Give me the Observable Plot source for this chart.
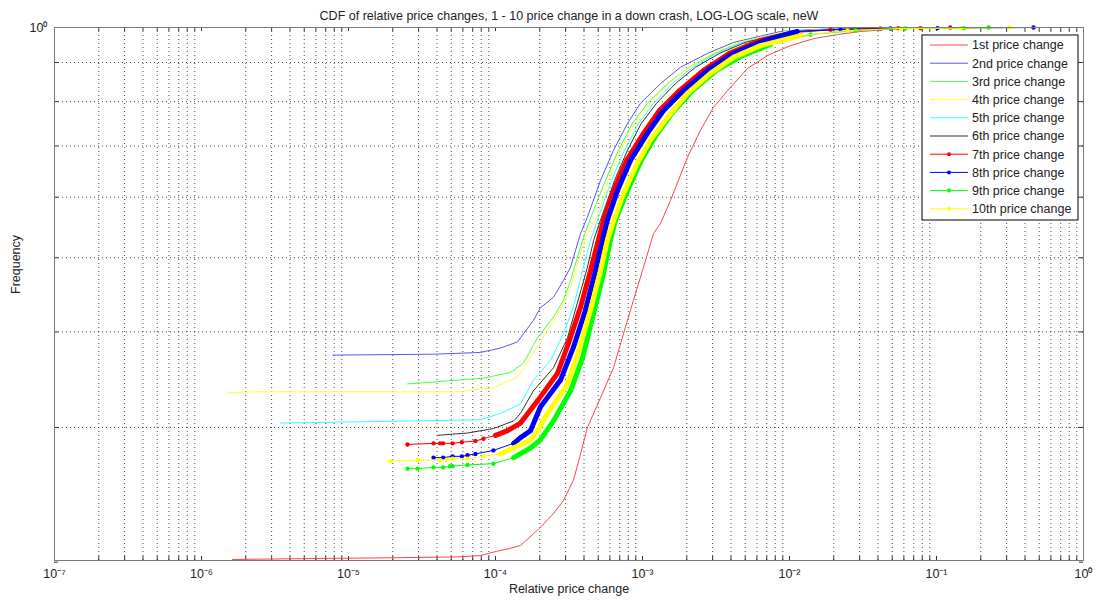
<!DOCTYPE html>
<html><head><meta charset="utf-8">
<script src="https://cdn.jsdelivr.net/npm/d3@7"></script>
<script src="https://cdn.jsdelivr.net/npm/@observablehq/plot@0.6"></script>
<style>
body{margin:0;background:#fff;}
#chart{width:1096px;height:605px;}
</style>
</head><body><div id="chart"></div>
<script>
const title = "CDF of relative price changes, 1 - 10 price change in a down crash, LOG-LOG scale, neW";
const xLabel = "Relative price change";
const yLabel = "Frequency";
const seriesNames = ["1st price change","2nd price change","3rd price change","4th price change","5th price change","6th price change","7th price change","8th price change","9th price change","10th price change"];
const seriesColors = ["#ff4444","#5555ff","#44ff44","#ffff33","#33ffff","#333333","#ff0000","#0000ff","#00ff00","#ffff00"];
const seriesMarkers = [false,false,false,false,false,false,true,true,true,true];
const xMajorTicks = [1e-7,1e-6,1e-5,1e-4,1e-3,1e-2,1e-1,1];
const xTickLabels = ["10⁻⁷","10⁻⁶","10⁻⁵","10⁻⁴","10⁻³","10⁻²","10⁻¹","10⁰"];
const xMinorMultipliers = [2,3,4,5,6,7,8,9];
const yGridValues = [0.3,0.4,0.5,0.6,0.7,0.8,0.9];
const yTickValues = [0.2,0.3,0.4,0.5,0.6,0.7,0.8,0.9,1];
const yLabelTicks = [1];
const yTickLabels = ["10⁰"];

// [relative price change, cumulative frequency]
const s1 = [[1.62e-6,0.2016],[2.4e-6,0.2018],[4.72e-6,0.2021],[1e-5,0.2024],[2.26e-5,0.2027],[5.5e-5,0.2032],[7.9e-5,0.204],[1.016e-4,0.2066],[1.25e-4,0.2084],[1.48e-4,0.2103],[1.99e-4,0.2214],[2.48e-4,0.2315],[2.9e-4,0.2408],[3.39e-4,0.256],[3.79e-4,0.277],[4.22e-4,0.300],[5.18e-4,0.328],[6.35e-4,0.359],[7.43e-4,0.398],[8.68e-4,0.440],[1.016e-3,0.486],[1.19e-3,0.538],[1.33e-3,0.555],[1.55e-3,0.594],[2.02e-3,0.676],[2.48e-3,0.734],[3.04e-3,0.786],[3.79e-3,0.827],[5.18e-3,0.884],[7.08e-3,0.919],[1.016e-2,0.947],[1.46e-2,0.967],[2.12e-2,0.979],[3.04e-2,0.988],[5.7e-2,0.997],[0.146,1]];
const s2 = [[7.8e-6,0.373],[3.79e-5,0.374],[7.9e-5,0.376],[1.08e-4,0.381],[1.41e-4,0.388],[1.48e-4,0.393],[1.81e-4,0.414],[2.02e-4,0.430],[2.48e-4,0.444],[2.9e-4,0.467],[3.24e-4,0.486],[3.5e-4,0.511],[3.79e-4,0.538],[4.22e-4,0.565],[5.18e-4,0.631],[6.35e-4,0.691],[7.9e-4,0.749],[9.68e-4,0.796],[1.33e-3,0.845],[1.81e-3,0.887],[2.77e-3,0.925],[4.16e-3,0.956],[8.68e-3,0.988],[1.46e-2,0.994],[3.04e-2,0.998],[5.7e-2,1]];
const s3 = [[2.52e-5,0.342],[8.28e-5,0.348],[1.265e-4,0.354],[1.55e-4,0.364],[1.93e-4,0.393],[2.48e-4,0.418],[2.9e-4,0.440],[3.24e-4,0.467],[3.6e-4,0.500],[3.97e-4,0.531],[4.5e-4,0.568],[5.6e-4,0.631],[6.86e-4,0.691],[8.52e-4,0.749],[1.08e-3,0.796],[1.48e-3,0.845],[2.06e-3,0.887],[3.09e-3,0.925],[4.65e-3,0.956],[9.4e-3,0.988],[1.62e-2,0.994],[3.55e-2,0.998],[9e-2,1]];
const s4 = [[1.5e-6,0.333],[2.4e-6,0.334],[5.5e-5,0.334],[9.68e-5,0.338],[1.41e-4,0.349],[1.81e-4,0.375],[2.26e-4,0.402],[2.77e-4,0.427],[3.24e-4,0.457],[3.67e-4,0.496],[4.09e-4,0.531],[4.94e-4,0.568],[5.87e-4,0.631],[7.08e-4,0.691],[8.8e-4,0.749],[1.12e-3,0.796],[1.5e-3,0.845],[2.06e-3,0.887],[2.99e-3,0.925],[4.5e-3,0.956],[9.4e-3,0.988],[1.9e-2,0.994],[4.16e-2,0.998],[0.124,1]];
const s5 = [[3.45e-6,0.304],[2.95e-5,0.306],[7.9e-5,0.307],[1.08e-4,0.313],[1.48e-4,0.322],[1.81e-4,0.346],[2.37e-4,0.367],[2.9e-4,0.398],[3.39e-4,0.431],[3.91e-4,0.481],[4.43e-4,0.527],[4.94e-4,0.560],[6.15e-4,0.631],[7.54e-4,0.691],[9.4e-4,0.749],[1.19e-3,0.796],[1.6e-3,0.845],[2.19e-3,0.887],[3.18e-3,0.925],[4.79e-3,0.956],[9.8e-3,0.988],[1.9e-2,0.994],[4.16e-2,0.998],[0.107,1]];
const s6 = [[4.03e-5,0.293],[6.45e-5,0.295],[9.68e-5,0.299],[1.33e-4,0.306],[1.48e-4,0.313],[1.81e-4,0.335],[2.48e-4,0.359],[3.09e-4,0.393],[3.6e-4,0.436],[4.22e-4,0.486],[4.65e-4,0.527],[5.18e-4,0.560],[6.45e-4,0.631],[7.9e-4,0.691],[9.8e-4,0.749],[1.245e-3,0.796],[1.68e-3,0.845],[2.29e-3,0.887],[3.34e-3,0.925],[5.0e-3,0.956],[1.016e-2,0.988],[2.06e-2,0.994],[4.5e-2,0.998],[0.119,1]];
const s7 = [[2.52e-5,0.285],[3.79e-5,0.286],[4.2e-5,0.286],[4.4e-5,0.286],[5.1e-5,0.286],[5.9e-5,0.287],[7.3e-5,0.288],[8.28e-5,0.290],[1.0e-4,0.293],[1.2e-4,0.297],[1.48e-4,0.304],[1.93e-4,0.325],[2.64e-4,0.353],[3.13e-4,0.386],[3.79e-4,0.431],[4.43e-4,0.481],[5.0e-4,0.527],[5.43e-4,0.560],[6.35e-4,0.612],[7.78e-4,0.670],[1.016e-3,0.727],[1.305e-3,0.779],[1.785e-3,0.827],[2.6e-3,0.879],[3.91e-3,0.925],[6.35e-3,0.962],[1.1e-2,0.985],[1.9e-2,0.993],[2.8e-2,0.996],[4.16e-2,0.997],[5.5e-2,0.998],[7.78e-2,0.998],[0.124,1]];
const s8 = [[3.79e-5,0.274],[4.4e-5,0.274],[5.1e-5,0.275],[5.9e-5,0.275],[6.45e-5,0.276],[7.3e-5,0.277],[9.68e-5,0.280],[1.33e-4,0.286],[1.48e-4,0.291],[1.73e-4,0.297],[2.02e-4,0.319],[2.77e-4,0.346],[3.39e-4,0.382],[4.09e-4,0.427],[4.79e-4,0.481],[5.34e-4,0.527],[5.77e-4,0.560],[6.76e-4,0.612],[8.28e-4,0.670],[1.08e-3,0.727],[1.39e-3,0.779],[1.9e-3,0.827],[2.77e-3,0.879],[4.16e-3,0.925],[6.86e-3,0.962],[1.13e-2,0.988],[2.22e-2,0.994],[4.86e-2,0.997],[0.1016,0.998],[0.457,1]];
const s9 = [[2.52e-5,0.265],[2.95e-5,0.265],[3.79e-5,0.266],[4.4e-5,0.266],[4.9e-5,0.267],[5.1e-5,0.267],[6.45e-5,0.268],[9.68e-5,0.269],[1.33e-4,0.274],[1.73e-4,0.282],[2.02e-4,0.289],[2.48e-4,0.306],[3.24e-4,0.335],[3.91e-4,0.370],[4.65e-4,0.423],[5.43e-4,0.477],[6.05e-4,0.527],[6.55e-4,0.560],[7.9e-4,0.612],[9.8e-4,0.670],[1.23e-3,0.722],[1.6e-3,0.774],[2.19e-3,0.827],[3.18e-3,0.879],[4.79e-3,0.919],[7.43e-3,0.950],[1.39e-2,0.979],[2.81e-2,0.991],[6.15e-2,0.997],[0.153,0.998],[0.226,1]];
const s10 = [[1.93e-5,0.271],[2.95e-5,0.272],[4.2e-5,0.272],[4.65e-5,0.272],[5.1e-5,0.273],[6.45e-5,0.273],[8.3e-5,0.275],[1.08e-4,0.277],[1.55e-4,0.286],[1.73e-4,0.289],[1.93e-4,0.297],[2.26e-4,0.313],[3.09e-4,0.342],[3.67e-4,0.378],[4.43e-4,0.427],[5.18e-4,0.481],[5.77e-4,0.527],[6.3e-4,0.556],[7.43e-4,0.607],[9.2e-4,0.664],[1.13e-3,0.712],[1.48e-3,0.763],[2.02e-3,0.820],[2.9e-3,0.871],[4.16e-3,0.914],[6.35e-3,0.947],[1.19e-2,0.976],[2.48e-2,0.991],[5.7e-2,0.997],[0.146,0.998],[0.314,1]];

const allSeries = [s1,s2,s3,s4,s5,s6,s7,s8,s9,s10];

// layout
const W = 1096, H = 605;
const mT = 27, mR = 13, mB = 45, mL = 54;
const frameW = W - mL - mR, frameH = H - mT - mB;
const tickLen = 4;
const bandRange = [1.0e-4, 1.2e-2];
const fontFam = "'Liberation Sans', Arial, sans-serif";

const xMinor = xMajorTicks.slice(0, -1).flatMap(d => xMinorMultipliers.map(m => m * d));
const xAllTicks = xMajorTicks.concat(xMinor);
const xLabelMap = new Map(xMajorTicks.map((v, i) => [v, xTickLabels[i]]));
const yLabelMap = new Map(yLabelTicks.map((v, i) => [v, yTickLabels[i]]));

const gridStyle = {stroke: "#111", strokeOpacity: 0.75, strokeDasharray: "1,3"};

const seriesMarks = allSeries.flatMap((s, i) => {
  const rows = s.map(([x, y]) => ({x, y}));
  const m = [Plot.line(rows, {x: "x", y: "y", stroke: seriesColors[i], strokeWidth: 1})];
  if (seriesMarkers[i]) {
    const band = rows.filter(d => d.x >= bandRange[0] && d.x <= bandRange[1]);
    m.push(Plot.line(band, {x: "x", y: "y", stroke: seriesColors[i], strokeWidth: 5, strokeLinecap: "round"}));
    m.push(Plot.dot(rows, {x: "x", y: "y", r: 2.2, fill: seriesColors[i], stroke: "none"}));
  }
  return m;
});

const chart = Plot.plot({
  width: W, height: H,
  marginTop: mT, marginRight: mR, marginBottom: mB, marginLeft: mL,
  x: {type: "log", domain: [1e-7, 1]},
  y: {type: "log", domain: [0.201, 1]},
  style: {fontFamily: fontFam, fontSize: "12px", color: "#222", background: "#fff"},
  marks: [
    Plot.ruleX(xMinor, gridStyle),
    Plot.ruleY(yGridValues, gridStyle),
    Plot.tickX(xAllTicks, {stroke: "#333", insetTop: frameH - tickLen}),
    Plot.tickX(xAllTicks, {stroke: "#333", insetBottom: frameH - tickLen}),
    Plot.tickY(yTickValues, {stroke: "#333", insetRight: frameW - tickLen}),
    Plot.tickY(yTickValues, {stroke: "#333", insetLeft: frameW - tickLen}),
    ...seriesMarks,
    Plot.frame({stroke: "#7a7a7a"}),
    Plot.axisX(xMajorTicks, {tickSize: 0, tickPadding: 9, tickFormat: d => xLabelMap.get(d), fontSize: 12.5, label: null}),
    Plot.axisY(yLabelTicks, {tickSize: 0, tickPadding: 7, tickFormat: d => yLabelMap.get(d), fontSize: 12.5, label: null}),
    Plot.text([title], {frameAnchor: "top", dy: -16, fontSize: 12.5, fill: "#222"}),
    Plot.text([xLabel], {frameAnchor: "bottom", dy: 32, fontSize: 12.5, fill: "#222"}),
    Plot.text([yLabel], {frameAnchor: "left", dx: -39, rotate: -90, fontSize: 12.5, fill: "#222"})
  ]
});

document.getElementById("chart").appendChild(chart);

// legend (inside the axes, top-right, like the original)
const svg = d3.select(chart);
const lg = svg.append("g").attr("font-family", fontFam).attr("font-size", 12.5).attr("text-anchor", "start");
const lgX = 922, lgY = 35, lgW = 156, lgH = 185, rowH = 18.2;
lg.append("rect").attr("x", lgX).attr("y", lgY).attr("width", lgW).attr("height", lgH)
  .attr("fill", "#fff").attr("stroke", "#000").attr("stroke-width", 1);
seriesNames.forEach((name, i) => {
  const cy = lgY + 10 + i * rowH;
  lg.append("line").attr("x1", lgX + 8).attr("x2", lgX + 46).attr("y1", cy).attr("y2", cy)
    .attr("stroke", seriesColors[i]).attr("stroke-width", 1);
  if (seriesMarkers[i]) {
    lg.append("circle").attr("cx", lgX + 27).attr("cy", cy).attr("r", 2).attr("fill", seriesColors[i]);
  }
  lg.append("text").attr("x", lgX + 50).attr("y", cy).attr("dy", "0.35em").attr("fill", "#222")
    .attr("text-anchor", "start").text(name);
});
</script>
</body></html>
